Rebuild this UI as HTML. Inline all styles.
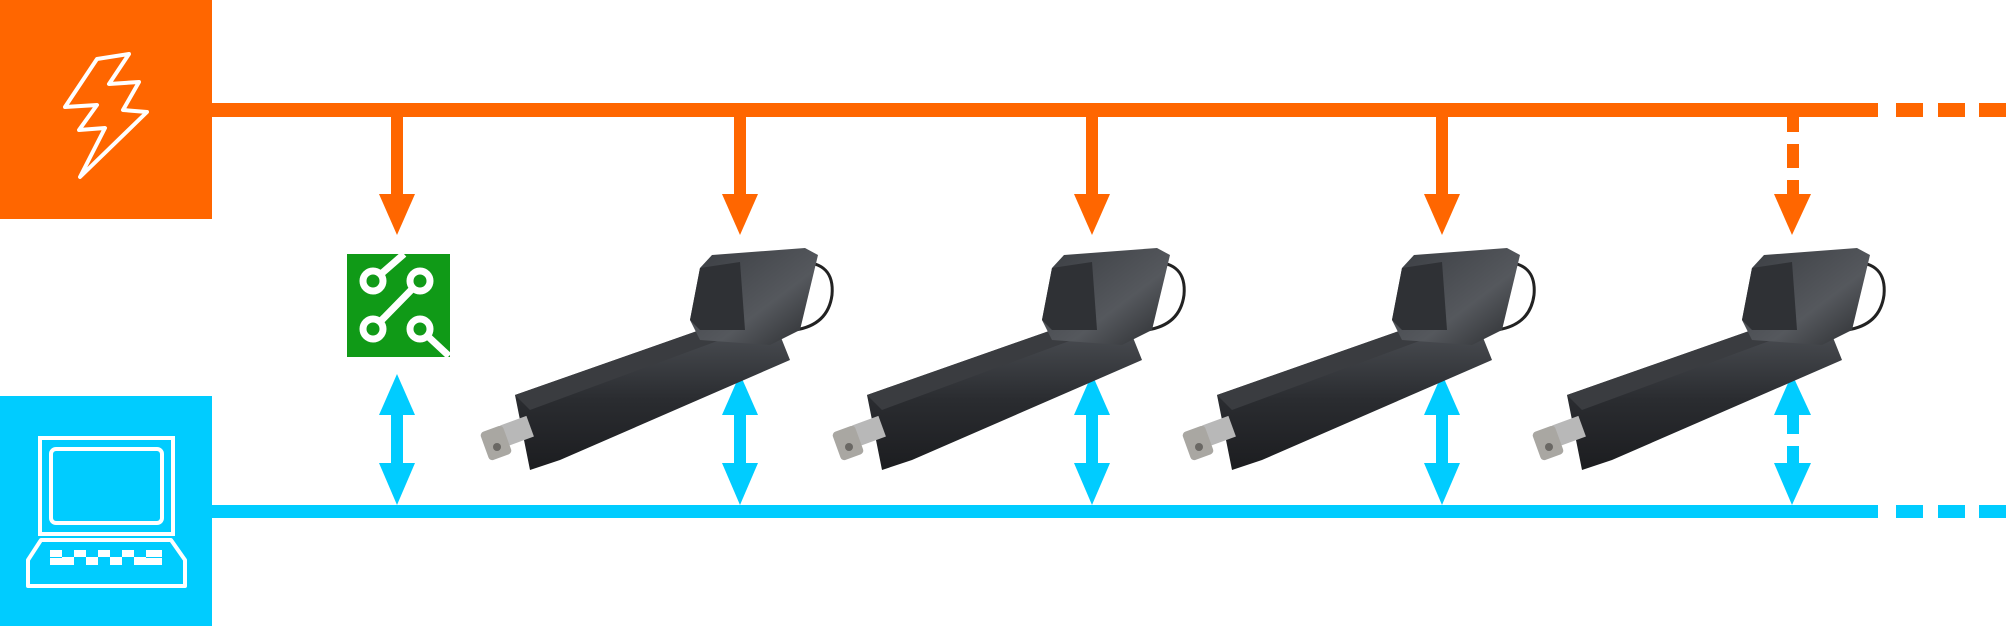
<!DOCTYPE html>
<html><head><meta charset="utf-8"><style>
html,body{margin:0;padding:0;background:#fff;width:2006px;height:626px;overflow:hidden}
svg{display:block}
</style></head><body>
<svg width="2006" height="626" viewBox="0 0 2006 626" xmlns="http://www.w3.org/2000/svg">
<defs>
<linearGradient id="tube" x1="0" y1="0" x2="0" y2="1">
<stop offset="0" stop-color="#4a4d52"/><stop offset="0.5" stop-color="#2a2c30"/><stop offset="1" stop-color="#1c1d20"/>
</linearGradient>
<linearGradient id="motor" x1="0" y1="0" x2="1" y2="1">
<stop offset="0" stop-color="#3a3d42"/><stop offset="0.6" stop-color="#55585d"/><stop offset="1" stop-color="#2a2c2f"/>
</linearGradient>
<g id="act">
<path d="M800 262 Q835 262 832 295 Q828 325 795 330" fill="none" stroke="#222" stroke-width="3"/>
<polygon points="515,395 700,330 780,335 790,360 560,460 530,470" fill="url(#tube)"/>
<polygon points="515,395 700,330 720,340 530,410" fill="#3a3c40"/>
<polygon points="700,268 712,255 805,248 818,255 800,330 770,345 700,340 690,320" fill="url(#motor)"/>
<polygon points="700,268 740,262 745,330 700,330 690,320" fill="#2f3135"/>
<rect x="503" y="420" width="28" height="22" fill="#b8b8b8" transform="rotate(-20 517 431)"/>
<rect x="484" y="428" width="24" height="30" rx="4" fill="#a9a7a2" transform="rotate(-20 496 443)"/>
<circle cx="497" cy="447" r="4" fill="#6a6864"/>
</g>
</defs>

<rect x="0" y="0" width="212" height="219" fill="#ff6600"/>
<polygon points="97,59 129,54 109,84 139,82 123,110 147,112 80,177 105,128 79,130 97,105 65,107" fill="none" stroke="#fff" stroke-width="4" stroke-linejoin="round"/>

<rect x="0" y="396" width="212" height="230" fill="#00ccff"/>
<rect x="40" y="438" width="133" height="96" fill="none" stroke="#fff" stroke-width="4"/>
<rect x="51" y="449" width="111" height="74" rx="5" fill="none" stroke="#fff" stroke-width="4"/>
<polygon points="41,540 171,540 185,560 185,586 28,586 28,560" fill="none" stroke="#fff" stroke-width="4" stroke-linejoin="round"/>
<g fill="#fff">
<rect x="50" y="550" width="12" height="7"/><rect x="74" y="550" width="12" height="7"/><rect x="98" y="550" width="12" height="7"/><rect x="122" y="550" width="12" height="7"/><rect x="146" y="550" width="16" height="7"/>
<rect x="62" y="557" width="12" height="8"/><rect x="86" y="557" width="12" height="8"/><rect x="110" y="557" width="12" height="8"/><rect x="134" y="557" width="12" height="8"/>
<rect x="50" y="558" width="12" height="7"/><rect x="146" y="558" width="16" height="7"/>
</g>

<rect x="212" y="103" width="1666" height="14" fill="#ff6600"/>
<rect x="1896" y="103" width="27" height="14" fill="#ff6600"/>
<rect x="1938" y="103" width="27" height="14" fill="#ff6600"/>
<rect x="1979" y="103" width="27" height="14" fill="#ff6600"/>
<rect x="212" y="505" width="1666" height="13" fill="#00ccff"/>
<rect x="1896" y="505" width="27" height="13" fill="#00ccff"/>
<rect x="1938" y="505" width="27" height="13" fill="#00ccff"/>
<rect x="1979" y="505" width="27" height="13" fill="#00ccff"/>

<rect x="347" y="254" width="103" height="103" fill="#109a17"/>
<g stroke="#fff" stroke-width="7" fill="#109a17">
<line x1="373" y1="281" x2="404" y2="254"/>
<line x1="420" y1="281" x2="373" y2="329"/>
<line x1="420" y1="329" x2="449" y2="356"/>
<circle cx="373" cy="281" r="10"/><circle cx="420" cy="281" r="10"/>
<circle cx="373" cy="329" r="10"/><circle cx="420" cy="329" r="10"/>
</g>

<g id="arr">
<rect x="391" y="117" width="12" height="80" fill="#ff6600"/>
<polygon points="379,194 415,194 397,235" fill="#ff6600"/>
<polygon points="397,374 415,415 379,415" fill="#00ccff"/>
<rect x="391" y="414" width="12" height="50" fill="#00ccff"/>
<polygon points="379,463 415,463 397,505" fill="#00ccff"/>
</g>
<use href="#arr" x="343"/>
<use href="#arr" x="695"/>
<use href="#arr" x="1045"/>

<g>
<rect x="1787" y="117" width="12" height="15" fill="#ff6600"/>
<rect x="1787" y="144" width="12" height="24" fill="#ff6600"/>
<rect x="1787" y="180" width="12" height="15" fill="#ff6600"/>
<polygon points="1774,194 1811,194 1792,235" fill="#ff6600"/>
<polygon points="1792,374 1811,415 1774,415" fill="#00ccff"/>
<rect x="1787" y="414" width="12" height="20" fill="#00ccff"/>
<rect x="1787" y="446" width="12" height="18" fill="#00ccff"/>
<polygon points="1774,463 1811,463 1792,505" fill="#00ccff"/>
</g>

<use href="#act" x="0"/>
<use href="#act" x="352"/>
<use href="#act" x="702"/>
<use href="#act" x="1052"/>
</svg>
</body></html>
